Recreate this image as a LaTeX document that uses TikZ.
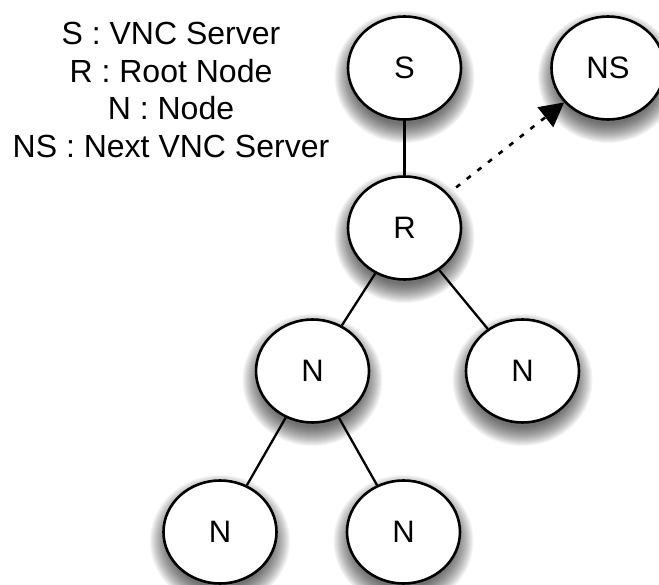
\documentclass[tikz,border=0pt]{standalone}
\usepackage{fontspec}
\setmainfont{Liberation Sans}
\usetikzlibrary{arrows.meta,shapes.geometric}
\tikzset{
 vnode/.style={ellipse,draw=black,line width=2.6pt,fill=white,minimum width=113pt,minimum height=103pt,inner sep=0pt,font=\fontsize{31}{36}\selectfont},
 edge/.style={draw=black,line width=2.3pt},
 legend/.style={font=\fontsize{32}{37.5}\selectfont,align=center,inner sep=0pt},
 softlayer/.style={fill=black,opacity=.04,draw=none},
}
\begin{document}
\begin{tikzpicture}[x=1pt,y=-1pt]
\useasboundingbox (0,0) rectangle (659,585);
\foreach \cx/\cy in {404.5/68,608/68,404.5/228,312.5/371,522.5/371,220/532,403.5/532}
  \foreach \k in {13,12,11,10,9,8,7,6,5,4,3,2,1,0,-1,-2,-3,-4,-5,-6}
    \fill[softlayer] (\cx,\cy+9) ellipse [x radius=57pt+\k pt, y radius=53pt+\k pt];
\node[vnode] (S) at (404.5,68) {S};
\node[vnode] (NS) at (608,68) {NS};
\node[vnode] (R) at (404.5,228) {R};
\node[vnode] (N1) at (312.5,371) {N};
\node[vnode] (N2) at (522.5,371) {N};
\node[vnode] (N3) at (220,532) {N};
\node[vnode] (N4) at (403.5,532) {N};
\draw[edge] (S) -- (R);
\draw[edge] (R) -- (N1);
\draw[edge] (R) -- (N2);
\draw[edge] (N1) -- (N3);
\draw[edge] (N1) -- (N4);
\draw[edge,line width=2.6pt,dash pattern=on 5pt off 8.5pt,shorten <=10pt,-{Triangle[length=24pt,width=25pt]}] (R) -- (NS);
\node[legend] (L) at (171,90) {S : VNC Server\\R : Root Node\\N : Node\\NS : Next VNC Server};
\end{tikzpicture}
\end{document}
